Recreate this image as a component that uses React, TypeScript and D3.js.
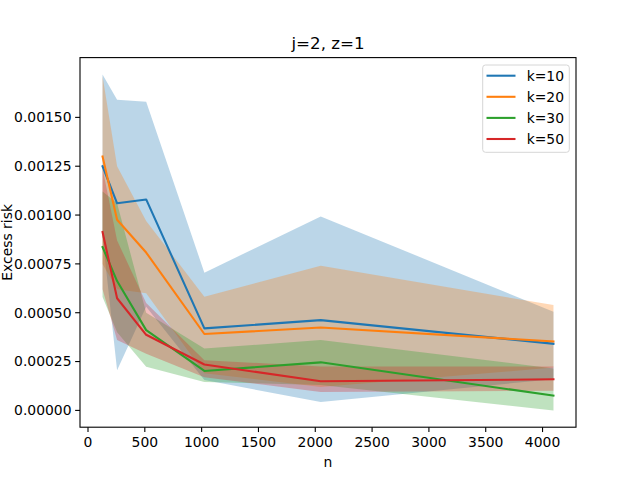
import * as d3 from 'd3';

const nValues = [128, 256, 512, 1024, 2048, 4096];
const seriesLabels = ['k=10', 'k=20', 'k=30', 'k=50'];
const colors = ['#1f77b4', '#ff7f0e', '#2ca02c', '#d62728'];

const meanK10 = [0.00125, 0.00106, 0.00108, 0.00042, 0.000462, 0.000341];
const meanK20 = [0.0013, 0.000976, 0.000808, 0.000391, 0.000424, 0.000353];
const meanK30 = [0.000836, 0.000662, 0.000411, 0.000202, 0.000246, 0.0000755];
const meanK50 = [0.000913, 0.000574, 0.000387, 0.000235, 0.000149, 0.000159];

const upperK10 = [0.00172, 0.00159, 0.00158, 0.000705, 0.000993, 0.000505];
const lowerK10 = [0.00089, 0.000205, 0.00053, 0.000155, 0.000043, 0.00016];
const upperK20 = [0.00171, 0.00125, 0.00097, 0.000582, 0.00074, 0.000539];
const lowerK20 = [0.00075, 0.00062, 0.0006, 0.00019, 0.00012, 0.000219];
const upperK30 = [0.00112, 0.00106, 0.0005, 0.000317, 0.00036, 0.000215];
const lowerK30 = [0.00058, 0.0004, 0.000223, 0.000145, 0.00013, 0.0];
const upperK50 = [0.00124, 0.00087, 0.00055, 0.000257, 0.000225, 0.000225];
const lowerK50 = [0.00062, 0.00036, 0.00029, 0.00017, 0.000094, 0.0001];

const xTicks = [0, 500, 1000, 1500, 2000, 2500, 3000, 3500, 4000];
const yTicks = [0, 0.00025, 0.0005, 0.00075, 0.001, 0.00125, 0.0015];

const means = [meanK10, meanK20, meanK30, meanK50];
const uppers = [upperK10, upperK20, upperK30, upperK50];
const lowers = [lowerK10, lowerK20, lowerK30, lowerK50];

const W = 640;
const H = 480;
const left = 80, right = 576, top = 57.6, bottom = 427.2;
const font = 'DejaVu Sans, sans-serif';

export default function App() {
  const allVals = [...uppers.flat(), ...lowers.flat(), ...means.flat()];
  const yMin = d3.min(allVals)!;
  const yMax = d3.max(allVals)!;
  const yPad = (yMax - yMin) * 0.05;
  const xPad = (4096 - 128) * 0.05;

  const x = d3.scaleLinear().domain([128 - xPad, 4096 + xPad]).range([left, right]);
  const y = d3.scaleLinear().domain([yMin - yPad, yMax + yPad]).range([bottom, top]);

  const line = d3
    .line<number>()
    .x((_, i) => x(nValues[i]))
    .y((d) => y(d));

  const band = (lo: number[], hi: number[]) =>
    d3
      .area<number>()
      .x((_, i) => x(nValues[i]))
      .y0((_, i) => y(lo[i]))
      .y1((d) => y(d))(hi) ?? '';

  return (
    <svg
      width={W}
      height={H}
      style={{ position: 'absolute', left: 0, top: 0, background: '#fff' }}
      fontFamily={font}
    >
      <rect width={W} height={H} fill="#fff" />
      {uppers.map((hi, i) => (
        <path key={'b' + i} d={band(lowers[i], hi)} fill={colors[i]} fillOpacity={0.3} stroke="none" />
      ))}
      {means.map((m, i) => (
        <path key={'l' + i} d={line(m) ?? ''} fill="none" stroke={colors[i]} strokeWidth={2.08} strokeLinejoin="round" strokeLinecap="square" />
      ))}
      <rect x={left} y={top} width={right - left} height={bottom - top} fill="none" stroke="#000" strokeWidth={1.1} />
      {xTicks.map((t) => (
        <g key={'x' + t} transform={`translate(${x(t)},${bottom})`}>
          <line y2={4.86} stroke="#000" strokeWidth={1.1} />
          <text y={19.5} textAnchor="middle" fontSize={13.9} fill="#000">{t}</text>
        </g>
      ))}
      {yTicks.map((t) => (
        <g key={'y' + t} transform={`translate(${left},${y(t)})`}>
          <line x2={-4.86} stroke="#000" strokeWidth={1.1} />
          <text x={-8.5} dy="0.35em" textAnchor="end" fontSize={13.9} fill="#000">{d3.format('.5f')(t)}</text>
        </g>
      ))}
      <text x={(left + right) / 2} y={49} textAnchor="middle" fontSize={16.67} fill="#000">j=2, z=1</text>
      <text x={(left + right) / 2} y={467} textAnchor="middle" fontSize={13.9} fill="#000">n</text>
      <text transform={`translate(12,${(top + bottom) / 2}) rotate(-90)`} textAnchor="middle" fontSize={13.9} fill="#000">Excess risk</text>
      <g>
        <rect x={482.7} y={65} width={86.6} height={87.3} rx={2.8} fill="#fff" fillOpacity={0.8} stroke="#d6d6d6" strokeWidth={1} />
        {seriesLabels.map((s, i) => (
          <g key={s} transform={`translate(0,${75.7 + i * 21.1})`}>
            <line x1={486.5} x2={515.5} stroke={colors[i]} strokeWidth={2.08} />
            <text x={526.7} dy="0.35em" fontSize={13.9} fill="#000">{s}</text>
          </g>
        ))}
      </g>
    </svg>
  );
}
